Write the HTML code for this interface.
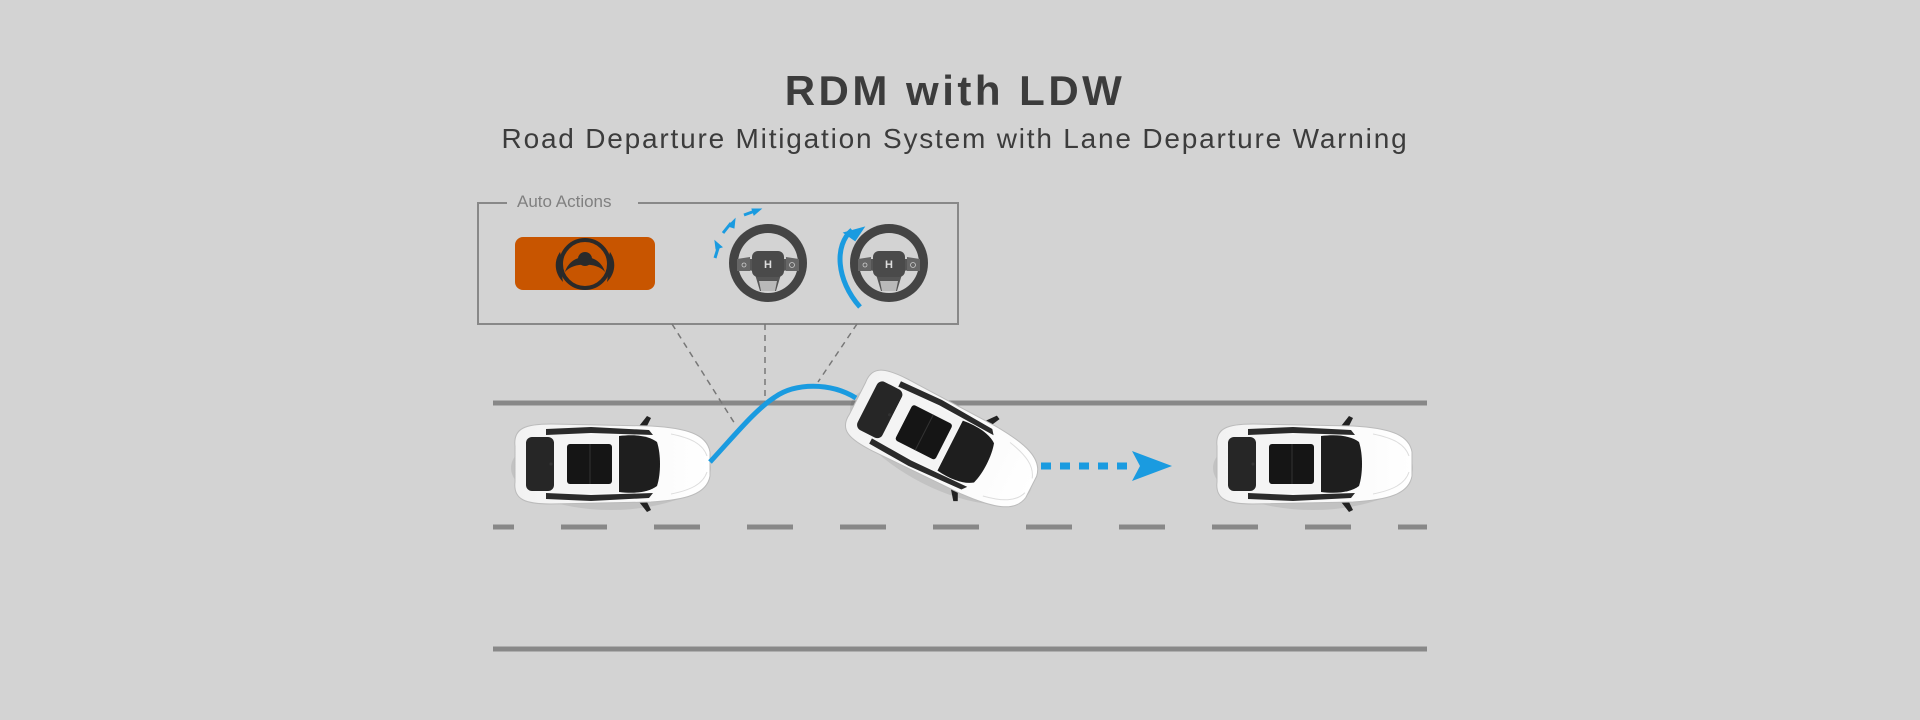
<!DOCTYPE html>
<html><head><meta charset="utf-8"><style>
html,body{margin:0;padding:0;background:#d3d3d3;}
svg{display:block}
</style></head><body>
<svg width="1920" height="720" viewBox="0 0 1920 720" xmlns="http://www.w3.org/2000/svg">
<defs>
<linearGradient id="hood" x1="0" x2="1" y1="0" y2="0">
<stop offset="0" stop-color="#f2f2f2"/><stop offset="1" stop-color="#ffffff"/></linearGradient>
<g id="car">
<ellipse cx="0" cy="4" rx="100" ry="42" fill="#000" opacity="0.08"/>
<path d="M25,-34 L36,-48 L40,-46 L33,-32 Z" fill="#222"/>
<path d="M25,34 L36,48 L40,46 L33,32 Z" fill="#222"/>
<path d="M-96,-18 C-98,-36 -85,-40 -60,-40 L40,-38 C75,-36 96,-30 99,-12 L99,12 C96,30 75,36 40,38 L-60,40 C-85,40 -98,36 -96,18 Z" fill="url(#hood)" stroke="#bbb" stroke-width="1"/>
<path d="M-65,-35 L-20,-37 L38,-34 L42,-29 L-20,-31 L-65,-29 Z" fill="#2a2a2a"/>
<path d="M-65,35 L-20,37 L38,34 L42,29 L-20,31 L-65,29 Z" fill="#2a2a2a"/>
<rect x="-85" y="-27" width="28" height="54" rx="6" fill="#262626"/>
<rect x="-57" y="-29" width="64" height="58" fill="#f4f4f4"/>
<rect x="-44" y="-20" width="45" height="40" rx="3" fill="#151515"/>
<line x1="-21" y1="-20" x2="-21" y2="20" stroke="#333" stroke-width="1"/>
<path d="M8,-28 C25,-30 38,-28 46,-22 C50,-10 50,10 46,22 C38,28 25,30 8,28 Z" fill="#1e1e1e"/>
<circle cx="-60" cy="0" r="1.6" fill="#333"/>
<path d="M60,-30 C80,-26 92,-20 96,-8 M60,30 C80,26 92,20 96,8" stroke="#ddd" stroke-width="1" fill="none"/>
</g>
<g id="wheel">
<circle r="39" fill="#444"/>
<circle r="30" fill="#d3d3d3"/>
<path d="M-30,-4 L30,-4 L30,6 L14,8 L8,28 L-8,28 L-14,8 L-30,6 Z" fill="#555"/>
<path d="M-9,18 L9,18 L7,28 L-7,28 Z" fill="#b9b9b9"/>
<rect x="-16" y="-12" width="32" height="26" rx="6" fill="#4a4a4a"/>
<path d="M-31,-4 L-18,-6 L-18,8 L-31,8 Z" fill="#666"/>
<path d="M31,-4 L18,-6 L18,8 L31,8 Z" fill="#666"/>
<circle cx="-24" cy="2" r="2" fill="none" stroke="#ccc" stroke-width="0.8"/>
<circle cx="24" cy="2" r="2.5" fill="none" stroke="#ccc" stroke-width="0.8"/>
<text x="0" y="5" font-family="Liberation Sans, sans-serif" font-size="11" font-weight="bold" fill="#ddd" text-anchor="middle">H</text>
</g>
</defs>

<text x="955" y="105" font-family="Liberation Sans, sans-serif" font-size="42" font-weight="bold" fill="#3c3c3c" text-anchor="middle" letter-spacing="3.5">RDM with LDW</text>
<text x="955" y="148" font-family="Liberation Sans, sans-serif" font-size="28" fill="#3c3c3c" text-anchor="middle" letter-spacing="1.8">Road Departure Mitigation System with Lane Departure Warning</text>

<path d="M507,203 L478,203 L478,324 L958,324 L958,203 L638,203" fill="none" stroke="#888" stroke-width="2"/>
<text x="517" y="207" font-family="Liberation Sans, sans-serif" font-size="17" fill="#808080">Auto Actions</text>
<rect x="515" y="237" width="140" height="53" rx="8" fill="#c85500"/>
<g transform="translate(585,264)" fill="#2a2a2a">
<circle r="24" fill="none" stroke="#2a2a2a" stroke-width="4"/>
<path d="M-20,8 C-14,-12 14,-12 20,8 C12,-2 -12,-2 -20,8 Z"/>
<circle cx="0" cy="-5" r="7"/>
<path d="M-25,-12 C-32,-2 -30,10 -22,18 C-24,8 -22,-2 -25,-12 Z"/>
<path d="M25,-12 C32,-2 30,10 22,18 C24,8 22,-2 25,-12 Z"/>
</g>
<use href="#wheel" x="768" y="263"/>
<use href="#wheel" x="889" y="263"/>
<g fill="#1a9be0" stroke="#1a9be0">
<path d="M715,258 L719,245" stroke-width="3" fill="none"/><path d="M715,241 L722,247 L716,249 Z"/>
<path d="M723,233 L731,223" stroke-width="3" fill="none"/><path d="M735,219 L734,228 L728,226 Z"/>
<path d="M744,215 L755,211" stroke-width="3" fill="none"/><path d="M761,209 L754,215 L752,209 Z"/>
<path d="M860,307 C836,280 834,245 852,230" stroke-width="5" fill="none"/>
<path d="M845,233 L863,228 L855,240 Z" stroke-width="2"/>
</g>

<line x1="493" y1="403" x2="1427" y2="403" stroke="#888" stroke-width="5"/>
<line x1="493" y1="649" x2="1427" y2="649" stroke="#888" stroke-width="5"/>
<line x1="493" y1="527" x2="1427" y2="527" stroke="#888" stroke-width="5" stroke-dasharray="46 47" stroke-dashoffset="25"/>

<g stroke="#777" stroke-width="1.5" stroke-dasharray="6 5" fill="none">
<line x1="672" y1="324" x2="735" y2="424"/>
<line x1="765" y1="324" x2="765" y2="404"/>
<line x1="857" y1="324" x2="818" y2="382"/>
</g>

<use href="#car" transform="translate(611,464)"/>
<use href="#car" transform="translate(943,442) rotate(27)"/>
<use href="#car" transform="translate(1313,464)"/>

<path d="M710,462 C735,435 755,410 775,397 C795,383 830,382 856,398" stroke="#1a9be0" stroke-width="5" fill="none"/>
<line x1="1041" y1="466" x2="1133" y2="466" stroke="#1a9be0" stroke-width="7" stroke-dasharray="10 9"/>
<path d="M1132,451 L1172,466 L1132,481 L1140,466 Z" fill="#1a9be0"/>
</svg>
</body></html>
